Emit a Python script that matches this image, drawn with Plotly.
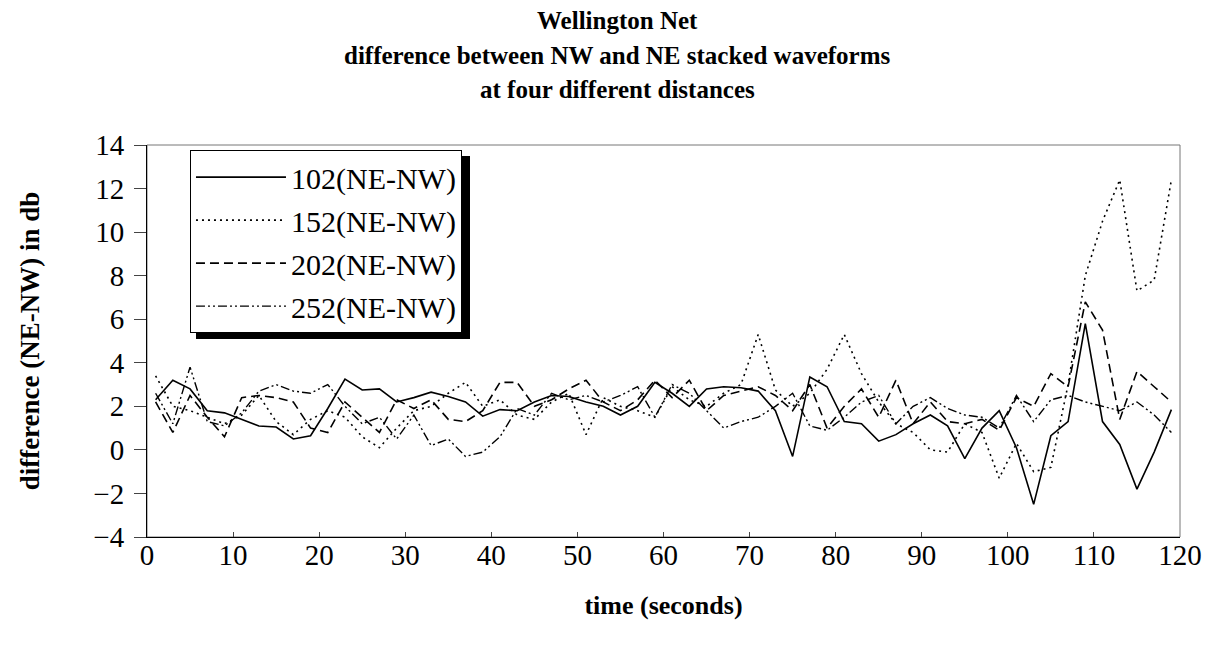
import plotly.graph_objects as go

time_s = list(range(1, 120, 2))

s102 = [2.3, 3.2, 2.8, 1.8, 1.7, 1.4, 1.1, 1.05, 0.5, 0.65,
        1.9, 3.25, 2.75, 2.8, 2.2, 2.4, 2.65, 2.45, 2.2, 1.55,
        1.85, 1.8, 2.2, 2.5, 2.45, 2.2, 2.0, 1.6, 2.0, 3.1,
        2.6, 2.0, 2.8, 2.9, 2.85, 2.7, 1.8, -0.3, 3.35, 2.9,
        1.3, 1.2, 0.4, 0.7, 1.2, 1.6, 1.1, -0.4, 1.0, 1.8,
        0.1, -2.5, 0.65, 1.3, 5.8, 1.3, 0.25, -1.8, -0.1, 1.85]

s152 = [3.4, 2.0, 1.8, 1.5, 1.2, 1.6, 2.5, 1.3, 0.7, 1.4,
        1.8, 1.5, 0.6, 0.1, 1.0, 1.8, 2.0, 2.6, 3.1, 2.0,
        2.3, 1.6, 1.4, 2.2, 2.6, 0.7, 2.4, 2.0, 1.8, 1.5,
        2.9, 2.3, 2.0, 2.6, 3.0, 5.3, 2.75, 2.0, 2.6, 3.7,
        5.3, 3.5, 2.2, 1.2, 0.8, 0.0, -0.1, 1.2, 0.8, -1.3,
        0.3, -1.0, -0.8, 3.0, 8.0, 10.5, 12.4, 7.3, 7.8, 12.4]

s202 = [2.2, 0.8, 2.5, 1.5, 0.6, 2.4, 2.5, 2.4, 2.2, 1.0,
        0.8, 2.2, 1.5, 0.8, 2.3, 1.9, 2.3, 1.4, 1.3, 1.8,
        3.1, 3.1, 2.0, 2.3, 2.8, 3.2, 2.2, 1.8, 2.3, 3.2,
        2.4, 3.2, 1.8, 2.5, 2.7, 2.9, 2.5, 1.8, 3.0, 1.0,
        2.0, 2.8, 1.5, 3.2, 1.2, 2.2, 1.3, 1.2, 1.4, 0.9,
        2.4, 2.0, 3.5, 2.9, 6.8, 5.5, 1.4, 3.6, 2.9, 2.2]

s252 = [2.6, 1.2, 3.8, 1.3, 1.1, 1.7, 2.7, 3.0, 2.7, 2.6,
        3.0, 2.0, 1.2, 1.5, 0.5, 1.6, 0.2, 0.5, -0.3, -0.1,
        0.6, 1.9, 1.6, 2.6, 2.3, 2.5, 2.2, 2.5, 2.9, 1.5,
        3.0, 2.6, 1.8, 1.0, 1.3, 1.5, 2.0, 2.6, 1.1, 0.9,
        1.5, 2.2, 2.5, 1.2, 2.0, 2.4, 1.9, 1.6, 1.5, 1.0,
        2.5, 1.3, 2.3, 2.5, 2.2, 2.0, 1.8, 2.2, 1.6, 0.8]

series_names = ["102(NE-NW)", "152(NE-NW)", "202(NE-NW)", "252(NE-NW)"]
x_ticks = list(range(0, 121, 10))
y_ticks = list(range(-4, 15, 2))

FONT = "Liberation Serif, Times New Roman, serif"

styles = [
    dict(dash="solid", width=1.6),
    dict(dash="2px,4px", width=1.6),
    dict(dash="9px,5px", width=1.6),
    dict(dash="9px,3px,2px,3px,2px,3px", width=1.4),
]

fig = go.Figure()
for name, vals, st in zip(series_names, [s102, s152, s202, s252], styles):
    fig.add_trace(go.Scatter(
        x=time_s, y=vals, mode="lines", name=name, legendgroup=name,
        line=dict(color="black", **st),
    ))

PLOT_W = 1033.0
PLOT_H = 392.0
titles = ["Wellington Net",
          "difference between NW and NE stacked waveforms",
          "at four different distances"]
for i, t in enumerate(titles):
    fig.add_annotation(
        text="<b>%s</b>" % t, xref="paper", yref="paper",
        x=0.455, y=1.0 + (125 - 35 * i) / PLOT_H, yanchor="middle",
        showarrow=False, font=dict(family=FONT, size=25, color="black"),
    )

# legend drop shadow (pixel offsets relative to plot area origin)
sx0, sx1, sy_top, sy_bot = 196 - 147, 470 - 147, 537 - 156, 537 - 339
fig.add_shape(type="rect", xref="paper", yref="paper",
              x0=sx0 / PLOT_W, x1=sx1 / PLOT_W,
              y0=sy_bot / PLOT_H, y1=sy_top / PLOT_H,
              fillcolor="black", line=dict(width=0), layer="above")

fig.update_layout(
    width=1213, height=660,
    margin=dict(l=139, r=41, t=137, b=131),
    paper_bgcolor="white", plot_bgcolor="white",
    font=dict(family=FONT, size=28, color="black"),
    showlegend=True,
    legend=dict(
        x=0.0416, y=0.987, xanchor="left", yanchor="top",
        bgcolor="white", bordercolor="black", borderwidth=1,
        font=dict(family=FONT, size=30, color="black"),
        tracegroupgap=1, itemwidth=90,
    ),
    xaxis=dict(
        range=[0, 120], tickvals=x_ticks, ticks="inside", ticklen=5,
        ticklabelstandoff=-8,
        showline=True, linecolor="black", linewidth=1, mirror=False,
        showgrid=False, zeroline=False,
        tickfont=dict(family=FONT, size=29),
        title=dict(text="<b>time (seconds)</b>", standoff=26,
                   font=dict(family=FONT, size=26)),
    ),
    yaxis=dict(
        range=[-4, 14], tickvals=y_ticks, ticks="outside", ticklen=12,
        ticklabelstandoff=4,
        showline=True, linecolor="black", linewidth=1, mirror=False,
        showgrid=False, zeroline=False,
        tickfont=dict(family=FONT, size=29),
        title=dict(text="<b>difference (NE-NW) in db</b>", standoff=45,
                   font=dict(family=FONT, size=27)),
    ),
)

# plot area border (top/right gray)
fig.add_shape(type="rect", xref="paper", yref="paper", x0=0, x1=1, y0=0, y1=1,
              line=dict(color="#777777", width=1), layer="below")

fig.write_html("out.html")
